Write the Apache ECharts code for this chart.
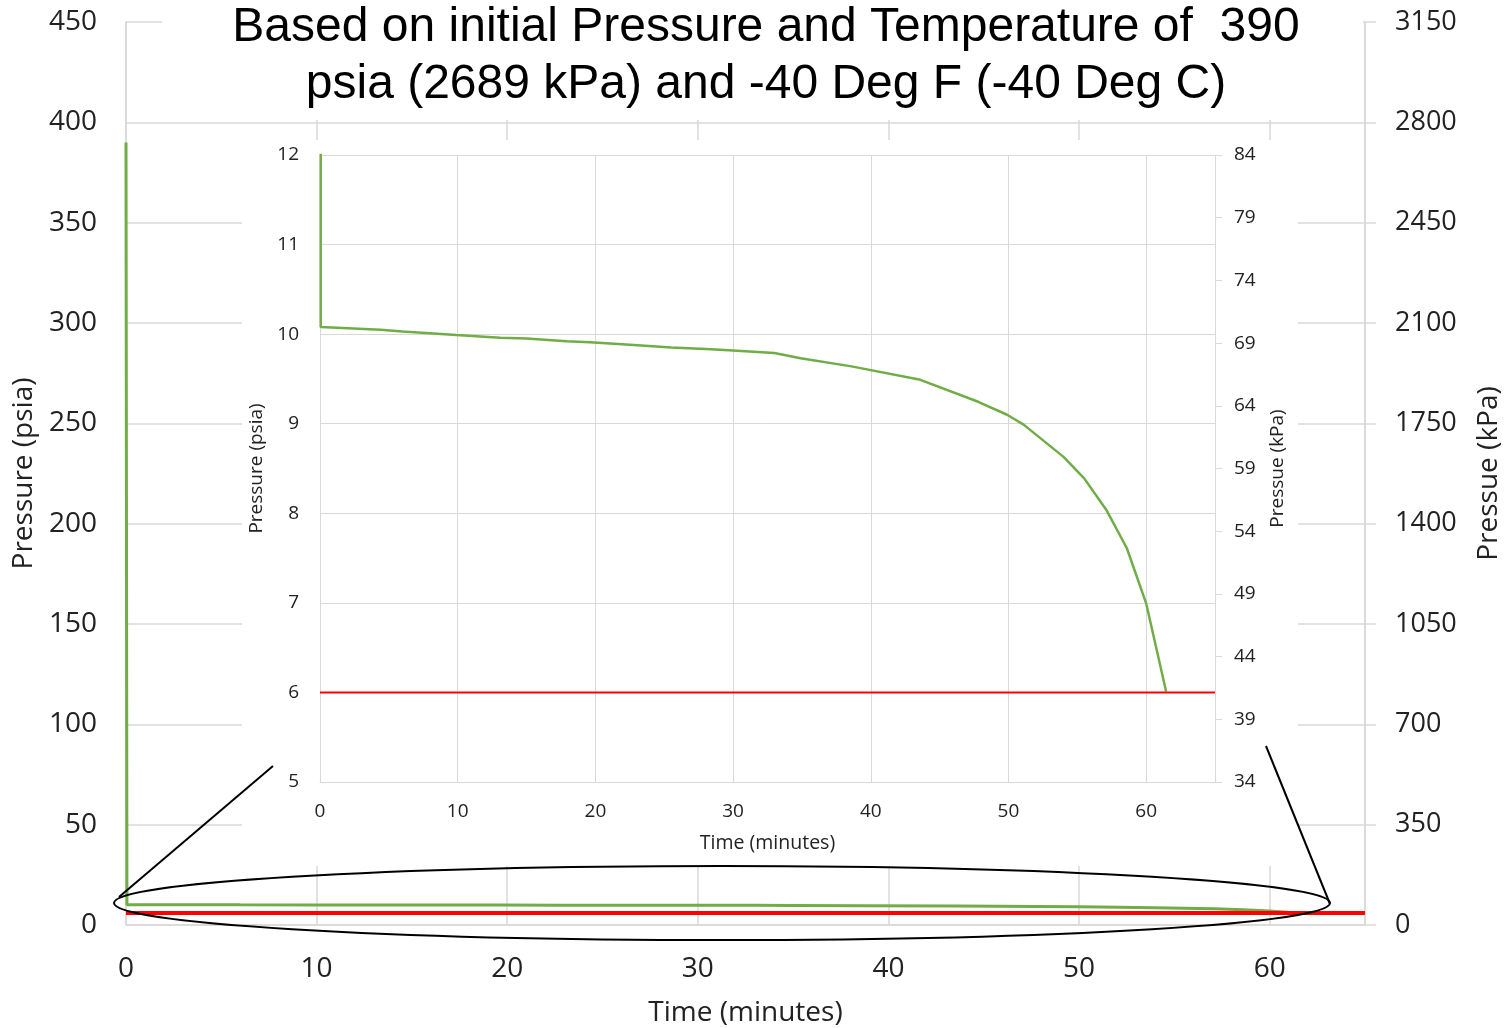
<!DOCTYPE html>
<html>
<head>
<meta charset="utf-8">
<title>Pressure vs time</title>
<script src="https://cdn.jsdelivr.net/npm/echarts@6/dist/echarts.min.js"></script>
<style>
  html, body { margin: 0; padding: 0; background: #fff; }
  #main { width: 1511px; height: 1028px; }
</style>
</head>
<body>
<div id="main"></div>
<script>
// time (minutes) and pressure (psia)
var timeMin = [0, 0.05, 4.4, 6.0, 9.9, 13.1, 15.0, 17.9, 19.6, 22.8, 25.5, 28.4, 30.3, 33.0, 34.9,
  38.6, 43.6, 47.8, 49.9, 51.1, 54.0, 55.5, 57.1, 58.6, 60.0, 61.45];
var pressPsia = [390, 10.08, 10.05, 10.03, 9.99, 9.96, 9.95, 9.92, 9.91, 9.88, 9.85, 9.83, 9.815, 9.79, 9.73,
  9.64, 9.49, 9.245, 9.10, 8.99, 8.63, 8.39, 8.04, 7.61, 6.995, 6.01];
var limitTime = [0, 65];
var limitPsia = [6, 6];

var titleLines = ['Based on initial Pressure and Temperature of  390', 'psia (2689 kPa) and -40 Deg F (-40 Deg C)'];

var pressureData = timeMin.map(function (t, i) { return [t, pressPsia[i]]; });
var limitData = limitTime.map(function (t, i) { return [t, limitPsia[i]]; });

var green = '#70AD47';
var red = '#FF0000';
var gridGray = '#d9d9d9';
var labelFont = 'Open Sans';
var textColor = '#222';

function hide65(v) { return v === 65 ? '' : String(v); }
function plain(v) { return String(v); }

var option = {
  animation: false,
  backgroundColor: '#fff',
  title: {
    text: titleLines.join('\n'),
    left: 761,
    top: -6,
    textAlign: 'center',
    z: 8,
    textStyle: {
      fontFamily: 'Liberation Sans',
      fontSize: 48,
      fontWeight: 'normal',
      color: '#000',
      lineHeight: 57
    }
  },
  grid: [
    { left: 126, right: 146, top: 22, bottom: 103, outerBoundsMode: 'none', containLabel: false },
    { left: 320, right: 296, top: 155, bottom: 246, outerBoundsMode: 'none', containLabel: false, z: 2 }
  ],
  xAxis: [{
    type: 'value', gridIndex: 0, min: 0, max: 65, interval: 10,
    name: 'Time (minutes)', nameLocation: 'middle', nameGap: 74,
    nameTextStyle: { fontFamily: labelFont, fontSize: 28, color: textColor },
    axisLine: { show: true, lineStyle: { color: gridGray, width: 1.5 } },
    axisTick: { show: false },
    axisLabel: { fontFamily: labelFont, fontSize: 28, color: textColor, margin: 30, formatter: hide65 },
    splitLine: { show: true, lineStyle: { color: gridGray, width: 1.5 } }
  }, {
    type: 'value', gridIndex: 1, min: 0, max: 65, interval: 10, z: 2,
    name: 'Time (minutes)', nameLocation: 'middle', nameGap: 51,
    nameTextStyle: { fontFamily: labelFont, fontSize: 19.5, color: textColor },
    axisLine: { show: true, lineStyle: { color: gridGray } },
    axisTick: { show: false },
    axisLabel: { fontFamily: labelFont, fontSize: 19, color: textColor, margin: 20, formatter: hide65 },
    splitLine: { show: true, lineStyle: { color: gridGray } }
  }],
  yAxis: [{
    type: 'value', gridIndex: 0, min: 0, max: 450, interval: 50,
    name: 'Pressure (psia)', nameLocation: 'middle', nameGap: 88, nameRotate: 90,
    nameTextStyle: { fontFamily: labelFont, fontSize: 28, color: textColor },
    axisLine: { show: true, lineStyle: { color: gridGray, width: 1.5 } },
    axisTick: { show: false },
    axisLabel: { fontFamily: labelFont, fontSize: 28, color: textColor, margin: 29, formatter: plain },
    splitLine: { show: true, lineStyle: { color: gridGray, width: 1.5 } }
  }, {
    type: 'value', gridIndex: 0, position: 'right', min: 0, max: 3150, interval: 350,
    name: 'Pressue (kPa)', nameLocation: 'middle', nameGap: 110, nameRotate: 90,
    nameTextStyle: { fontFamily: labelFont, fontSize: 28, color: textColor },
    axisLine: { show: true, lineStyle: { color: gridGray, width: 1.5 } },
    axisTick: { show: true, length: 11, lineStyle: { color: gridGray, width: 1.5 } },
    axisLabel: { fontFamily: labelFont, fontSize: 27, color: textColor, margin: 30, formatter: plain },
    splitLine: { show: false }
  }, {
    type: 'value', gridIndex: 1, min: 5, max: 12, interval: 1, z: 2,
    name: 'Pressure (psia)', nameLocation: 'middle', nameGap: 50, nameRotate: 90,
    nameTextStyle: { fontFamily: labelFont, fontSize: 19, color: textColor },
    axisLine: { show: true, lineStyle: { color: gridGray } },
    axisTick: { show: false },
    axisLabel: { fontFamily: labelFont, fontSize: 19, color: textColor, margin: 21, formatter: plain },
    splitLine: { show: true, lineStyle: { color: gridGray } }
  }, {
    type: 'value', gridIndex: 1, position: 'right', min: 34, max: 84, interval: 5, z: 2,
    name: 'Pressue (kPa)', nameLocation: 'middle', nameGap: 53, nameRotate: 90,
    nameTextStyle: { fontFamily: labelFont, fontSize: 19, color: textColor },
    axisLine: { show: true, lineStyle: { color: gridGray } },
    axisTick: { show: true, length: 7, lineStyle: { color: gridGray } },
    axisLabel: { fontFamily: labelFont, fontSize: 19, color: textColor, margin: 19, formatter: plain },
    splitLine: { show: false }
  }],
  series: [{
    name: 'pressure', type: 'line', xAxisIndex: 0, yAxisIndex: 0,
    data: pressureData, showSymbol: false, symbol: 'none', z: 3,
    lineStyle: { color: green, width: 3 }
  }, {
    name: 'limit', type: 'line', xAxisIndex: 0, yAxisIndex: 0,
    data: limitData, showSymbol: false, symbol: 'none', z: 3,
    lineStyle: { color: red, width: 4 }
  }, {
    name: 'pressure zoom', type: 'line', xAxisIndex: 1, yAxisIndex: 2,
    data: pressureData, showSymbol: false, symbol: 'none', z: 4, clip: true,
    lineStyle: { color: green, width: 2.5 }
  }, {
    name: 'limit zoom', type: 'line', xAxisIndex: 1, yAxisIndex: 2,
    data: limitData, showSymbol: false, symbol: 'none', z: 4,
    lineStyle: { color: red, width: 2 }
  }],
  graphic: [
    // white boxes behind the title and the zoomed chart
    { type: 'rect', z: 1, silent: true, shape: { x: 162, y: 0, width: 1201, height: 120 }, style: { fill: '#fff' } },
    { type: 'rect', z: 1, silent: true, shape: { x: 242, y: 140, width: 1056, height: 726 }, style: { fill: '#fff' } },
    // callout ellipse and leader lines
    { type: 'ellipse', z: 20, silent: true, shape: { cx: 722, cy: 903, rx: 608, ry: 37 },
      style: { fill: null, stroke: '#000', lineWidth: 2 } },
    { type: 'line', z: 20, silent: true, shape: { x1: 119, y1: 897, x2: 273, y2: 766 },
      style: { stroke: '#000', lineWidth: 2 } },
    { type: 'line', z: 20, silent: true, shape: { x1: 1266, y1: 746, x2: 1330, y2: 904 },
      style: { stroke: '#000', lineWidth: 2 } }
  ]
};

var chart = echarts.init(document.getElementById('main'));
chart.setOption(option);
</script>
</body>
</html>
